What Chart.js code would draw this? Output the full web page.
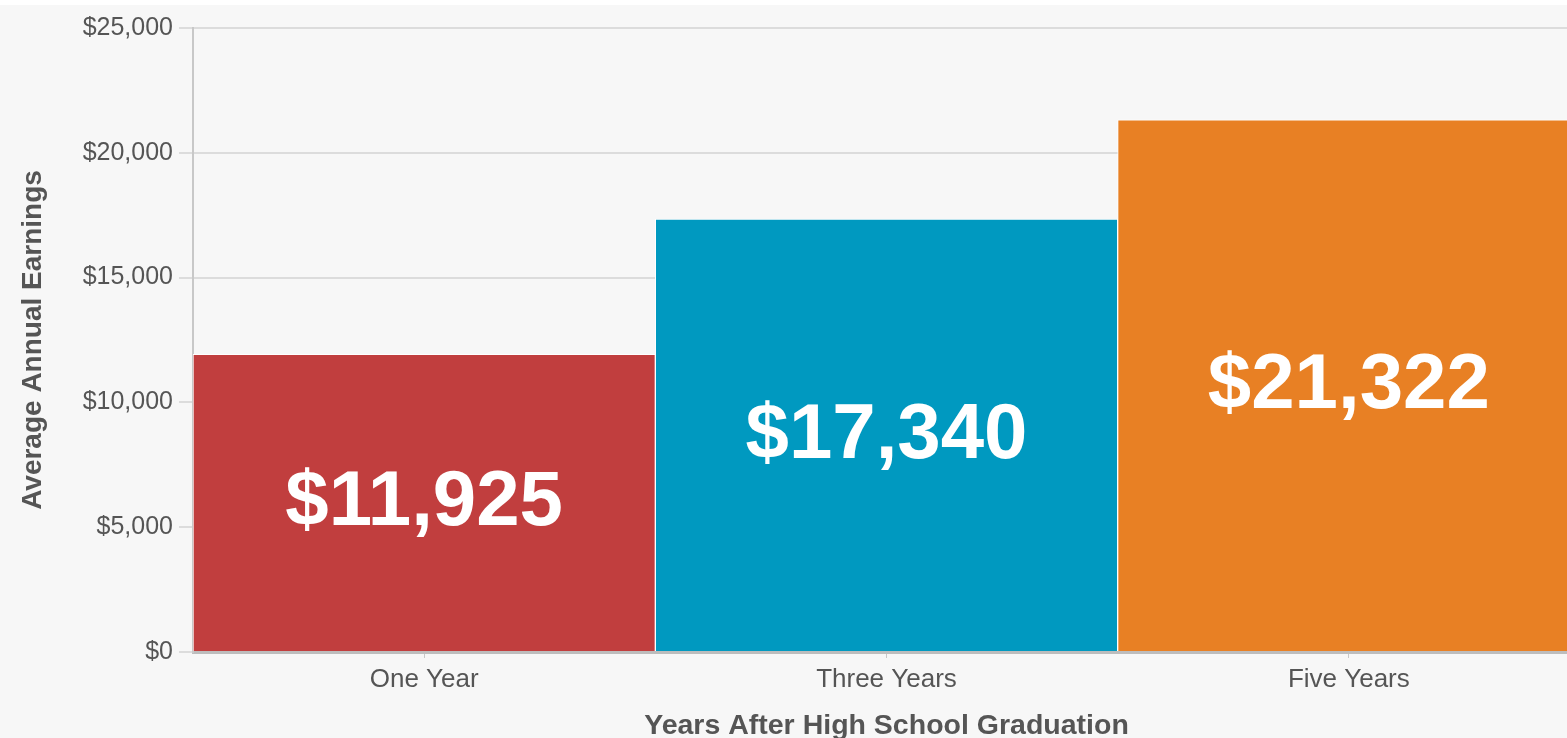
<!DOCTYPE html>
<html>
<head>
<meta charset="utf-8">
<script src="https://cdn.jsdelivr.net/npm/chart.js@4"></script>
<style>
  html, body { margin: 0; padding: 0; overflow: hidden; width: 1567px; height: 738px;
    background: linear-gradient(to bottom, #ffffff 0px, #ffffff 5px, #f7f7f7 5px, #f7f7f7 100%); }
  canvas { display: block; }
</style>
</head>
<body>
<canvas id="c" width="1580" height="738"></canvas>
<script>
const categories = ["One Year", "Three Years", "Five Years"];
const earnings = [11925, 17340, 21322];
const barColors = ["#c13e3e", "#0099c0", "#e88024"];
const yTickValues = [0, 5000, 10000, 15000, 20000, 25000];
const xTitle = "Years After High School Graduation";
const yTitle = "Average Annual Earnings";

const fmt = v => "$" + v.toLocaleString("en-US");

const valueLabels = {
  id: "valueLabels",
  afterDatasetsDraw(chart) {
    const ctx = chart.ctx;
    const meta = chart.getDatasetMeta(0);
    ctx.save();
    ctx.font = "bold 78px 'Liberation Sans', Arial, sans-serif";
    ctx.fillStyle = "#ffffff";
    ctx.textAlign = "center";
    ctx.textBaseline = "middle";
    meta.data.forEach((bar, i) => {
      const p = bar.getProps(["x", "y", "base"], true);
      ctx.fillText(fmt(earnings[i]), p.x, (p.y + p.base) / 2 + 1);
    });
    ctx.restore();
  }
};

new Chart(document.getElementById("c"), {
  type: "bar",
  data: {
    labels: categories,
    datasets: [{
      data: earnings,
      backgroundColor: barColors,
      borderColor: "#ffffff",
      borderWidth: 1,
      barPercentage: 1,
      categoryPercentage: 1
    }]
  },
  options: {
    responsive: false,
    devicePixelRatio: 1,
    animation: false,
    layout: { padding: { top: 28, right: 0, left: 0, bottom: 0 } },
    plugins: { legend: { display: false }, tooltip: { enabled: false } },
    scales: {
      x: {
        grid: { display: true, offset: false, drawOnChartArea: false, tickLength: 6, color: "#c8c8c8" },
        border: { color: "#bdbdbd", width: 3 },
        ticks: { color: "#555555", padding: 6, font: { family: "'Liberation Sans', Arial, sans-serif", size: 26 } },
        title: { display: true, text: xTitle, color: "#555555", padding: { top: 0, bottom: -5 },
          font: { family: "'Liberation Sans', Arial, sans-serif", size: 28.5, weight: "bold" } },
        afterFit(s) { s.height = 86; }
      },
      y: {
        min: 0, max: 25000,
        afterBuildTicks(s) { s.ticks = yTickValues.map(v => ({ value: v })); },
        grid: { color: "#dcdcdc", lineWidth: 2, tickLength: 14 },
        border: { color: "#c8c8c8", width: 2 },
        ticks: { color: "#555555", padding: 6, callback: v => fmt(v),
          font: { family: "'Liberation Sans', Arial, sans-serif", size: 25 } },
        title: { display: true, text: yTitle, color: "#555555", padding: { top: 16, bottom: 0 },
          font: { family: "'Liberation Sans', Arial, sans-serif", size: 28, weight: "bold" } },
        afterFit(s) { s.width = 193; }
      }
    }
  },
  plugins: [valueLabels]
});
</script>
</body>
</html>
